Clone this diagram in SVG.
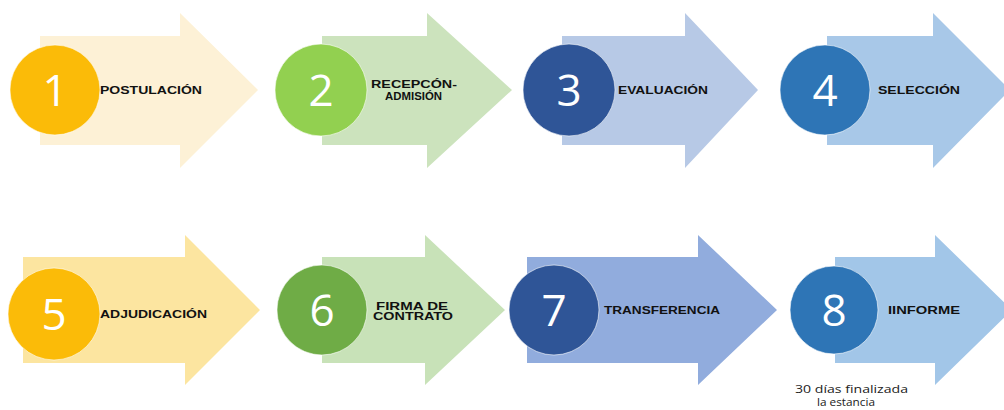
<svg xmlns="http://www.w3.org/2000/svg" width="1004" height="410" viewBox="0 0 1004 410">
<style>
.num{font-family:"Open Sans","Liberation Sans",sans-serif;font-size:44px;fill:#fff;text-anchor:middle}
.lbl{font-family:"Liberation Sans",Arial,sans-serif;font-size:11px;font-weight:bold;fill:#111}
.note{font-family:"Open Sans","Liberation Sans",sans-serif;font-size:11px;fill:#222}
.circ{stroke:#fff;stroke-opacity:0.6;stroke-width:1}
</style>
<rect width="1004" height="410" fill="#fff"/>
<g id="connectors"/>
<g id="node1">
<path d="M40,36 H180 V13 L258,90 L180,168 V145 H40 Z" fill="#FDF1D6"/>
<circle class="circ" cx="55" cy="90" r="45" fill="#FBBB08"/>
<text class="num" x="55" y="106">1</text>
<text class="lbl" x="100" y="94" textLength="102" lengthAdjust="spacingAndGlyphs">POSTULACIÓN</text>
</g>
<g id="node2">
<path d="M322,36 H427 V13 L512,90 L427,168 V145 H322 Z" fill="#CCE3BD"/>
<circle class="circ" cx="321" cy="90" r="46" fill="#92D050"/>
<text class="num" x="321" y="106">2</text>
<text class="lbl" x="371" y="88" textLength="86" lengthAdjust="spacingAndGlyphs">RECEPCÓN-</text>
<text class="lbl" x="385" y="100" textLength="57" lengthAdjust="spacingAndGlyphs">ADMISIÓN</text>
</g>
<g id="node3">
<path d="M562,36 H685 V13 L758,90 L685,168 V145 H562 Z" fill="#B7C9E6"/>
<circle class="circ" cx="569" cy="90" r="46" fill="#2F5597"/>
<text class="num" x="569" y="106">3</text>
<text class="lbl" x="618" y="94" textLength="90" lengthAdjust="spacingAndGlyphs">EVALUACIÓN</text>
</g>
<g id="node4">
<path d="M827,36 H933 V13 L1010,90 L933,168 V145 H827 Z" fill="#A8C8E8"/>
<circle class="circ" cx="825" cy="90" r="45" fill="#2E75B6"/>
<text class="num" x="825" y="106">4</text>
<text class="lbl" x="878" y="94" textLength="82" lengthAdjust="spacingAndGlyphs">SELECCIÓN</text>
</g>
<g id="node5">
<path d="M23,257 H185 V235 L260,310 L185,385 V363 H23 Z" fill="#FCE5A0"/>
<circle class="circ" cx="54" cy="314" r="46" fill="#FBBB08"/>
<text class="num" x="54" y="330">5</text>
<text class="lbl" x="100" y="318" textLength="107" lengthAdjust="spacingAndGlyphs">ADJUDICACIÓN</text>
</g>
<g id="node6">
<path d="M322,257 H425 V235 L505,310 L425,385 V363 H322 Z" fill="#C8E2B8"/>
<circle class="circ" cx="322" cy="310" r="45" fill="#6FAC46"/>
<text class="num" x="322" y="326">6</text>
<text class="lbl" x="376" y="310" textLength="72" lengthAdjust="spacingAndGlyphs">FIRMA DE</text>
<text class="lbl" x="373" y="320" textLength="80" lengthAdjust="spacingAndGlyphs">CONTRATO</text>
</g>
<g id="node7">
<path d="M527,257 H698 V235 L777,310 L698,385 V363 H527 Z" fill="#91ACDD"/>
<circle class="circ" cx="554" cy="310" r="45" fill="#2F5597"/>
<text class="num" x="554" y="326">7</text>
<text class="lbl" x="604" y="314" textLength="116" lengthAdjust="spacingAndGlyphs">TRANSFERENCIA</text>
</g>
<g id="node8">
<path d="M835,257 H935 V235 L1012,310 L935,385 V363 H835 Z" fill="#A2C6E8"/>
<circle class="circ" cx="834" cy="310" r="44" fill="#2E75B6"/>
<text class="num" x="834" y="326">8</text>
<text class="lbl" x="888" y="314" textLength="72" lengthAdjust="spacingAndGlyphs">IINFORME</text>
<text class="note" x="795" y="393" textLength="113" lengthAdjust="spacingAndGlyphs">30 días finalizada</text>
<text class="note" x="817" y="406" textLength="58" lengthAdjust="spacingAndGlyphs">la estancia</text>
</g>
</svg>
